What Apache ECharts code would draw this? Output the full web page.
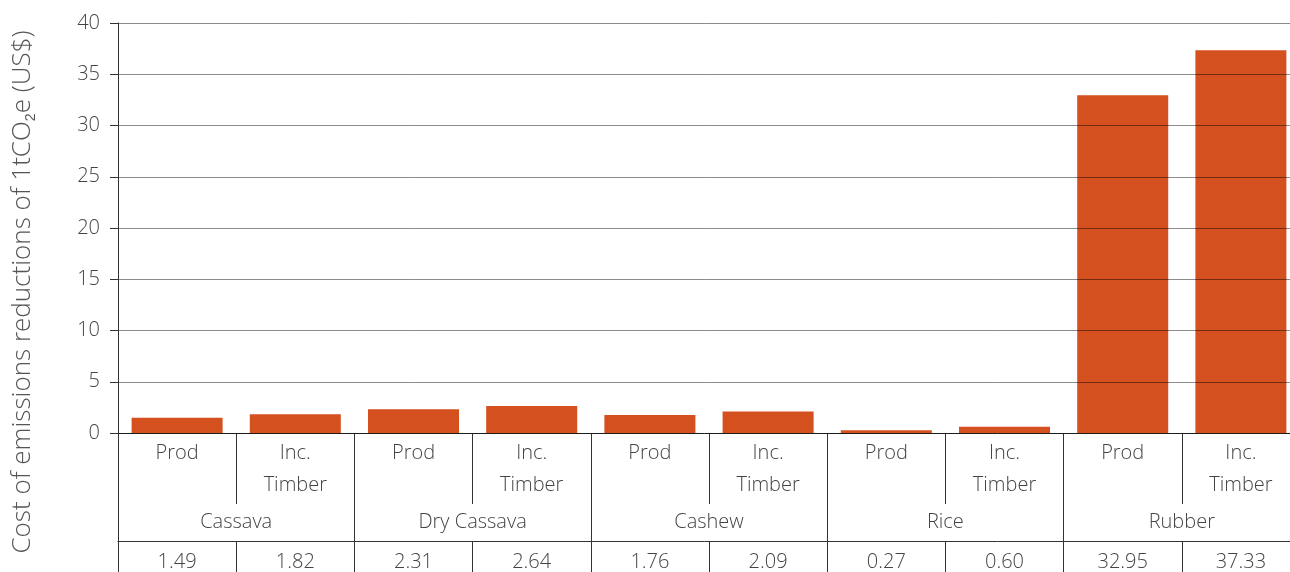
<!DOCTYPE html>
<html>
<head>
<meta charset="utf-8">
<script src="https://cdn.jsdelivr.net/npm/echarts@6/dist/echarts.min.js"></script>
<style>
  html, body { margin: 0; padding: 0; background: #fff; }
  #chart { width: 1290px; height: 572px; }
</style>
</head>
<body>
<div id="chart"></div>
<script>
const crops = ["Cassava", "Dry Cassava", "Cashew", "Rice", "Rubber"];
const scenarios = ["Prod", "Inc.\nTimber"];
const costs = [1.49, 1.82, 2.31, 2.64, 1.76, 2.09, 0.27, 0.60, 32.95, 37.33];
const yMax = 40;
const yStep = 5;

const font = "Open Sans";
const weight = 300;
const textColor = "#444";
const lineColor = "#333";

const categories = [];
crops.forEach((c) => scenarios.forEach((s) => categories.push(c + "|" + s)));
const costLabels = costs.map((v) => v.toFixed(2));

const chart = echarts.init(document.getElementById("chart"));

const label = (extra) =>
  Object.assign({ interval: 0, fontSize: 20, color: textColor, fontFamily: font, fontWeight: weight }, extra);

chart.setOption({
  animation: false,
  textStyle: { fontFamily: font },
  // the last column runs past the right edge of the picture
  grid: { left: 118, width: 1182, top: 23, bottom: 139, containLabel: false, outerBoundsMode: "none" },
  xAxis: [
    {
      type: "category",
      data: categories,
      position: "bottom",
      axisLine: { show: true, lineStyle: { color: lineColor, width: 1 } },
      axisTick: { show: true, interval: 0, length: 71, lineStyle: { color: lineColor } },
      axisLabel: label({ margin: 4, lineHeight: 32, formatter: (v) => v.split("|")[1] }),
    },
    {
      type: "category",
      data: crops,
      position: "bottom",
      axisLine: { show: false },
      axisTick: { show: true, interval: 0, length: 139, lineStyle: { color: lineColor } },
      axisLabel: label({ margin: 79 }),
    },
    {
      type: "category",
      data: costLabels,
      position: "bottom",
      offset: 108,
      axisLine: { show: true, lineStyle: { color: lineColor, width: 1 } },
      axisTick: { show: true, interval: 0, length: 31, lineStyle: { color: lineColor } },
      axisLabel: label({ margin: 11 }),
    },
  ],
  yAxis: {
    type: "value",
    min: 0,
    max: yMax,
    interval: yStep,
    z: 3,
    axisLine: { show: true, lineStyle: { color: lineColor, width: 1 } },
    axisTick: { show: true, length: 8, lineStyle: { color: lineColor } },
    splitLine: { show: true, lineStyle: { color: "rgba(0,0,0,0.45)", width: 1 } },
    axisLabel: label({ margin: 18 }),
  },
  graphic: [
    {
      type: "text",
      x: 23,
      y: 292,
      rotation: Math.PI / 2,
      style: {
        text: "Cost of emissions reductions of 1tCO{sub|2}e (US$)",
        font: weight + " 26px '" + font + "'",
        fill: "#555",
        align: "center",
        verticalAlign: "middle",
        rich: {
          sub: { fontSize: 14, fontWeight: weight, fill: "#555", verticalAlign: "bottom", padding: [16, 0, 0, 0] },
        },
      },
    },
  ],
  series: [
    {
      type: "bar",
      xAxisIndex: 0,
      data: costs,
      barCategoryGap: "23%",
      itemStyle: { color: "#d4501e" },
    },
  ],
});
</script>
</body>
</html>
